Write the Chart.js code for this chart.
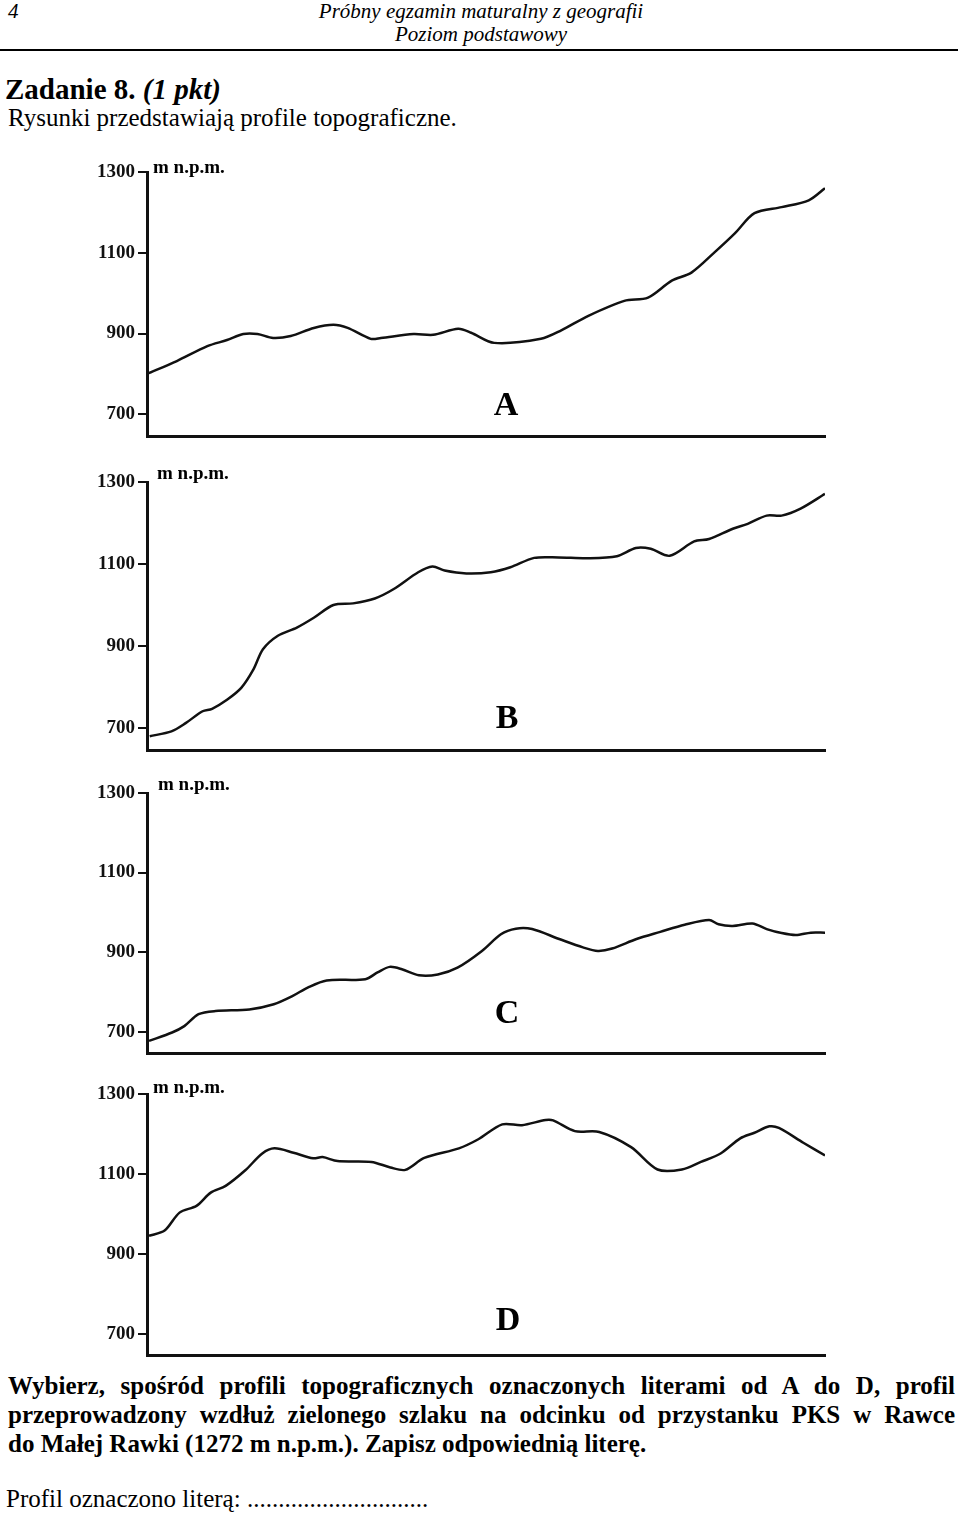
<!DOCTYPE html>
<html lang="pl">
<head>
<meta charset="utf-8">
<title>Profile topograficzne</title>
<script src="https://cdn.jsdelivr.net/npm/chart.js@4.4.1/dist/chart.umd.min.js"></script>
<style>
  html, body { margin: 0; padding: 0; background: #fff; }
  body { width: 960px; height: 1518px; position: relative; overflow: hidden;
         font-family: "Liberation Serif", "Times New Roman", serif; color: #000; }
  .abs { position: absolute; white-space: nowrap; }
  .head { font-style: italic; font-size: 21px; line-height: 23px; }
  .rule { position: absolute; left: 0; top: 49px; width: 958px; height: 1.5px; background: #000; }
  .unit { font-weight: bold; font-size: 19px; line-height: 20px; }
  .letter { font-weight: bold; font-size: 34px; line-height: 40px; width: 60px; text-align: center; }
  .task { left: 8px; width: 947px; font-weight: bold; font-size: 25px; line-height: 29px; }
  .just { text-align: justify; text-align-last: justify; }
  canvas { position: absolute; left: 0; }
</style>
</head>
<body>

<div class="abs head" style="left:8px; top:0;">4</div>
<div class="abs head" style="left:0; top:0; width:962px; text-align:center;">Próbny egzamin maturalny z geografii<br>Poziom podstawowy</div>
<div class="rule"></div>

<div class="abs" style="left:5px; top:72px; font-size:29px; line-height:34px; font-weight:bold;">Zadanie 8. <i>(1 pkt)</i></div>
<div class="abs" style="left:8px; top:104px; font-size:25px; line-height:28px;">Rysunki przedstawiają profile topograficzne.</div>

<div id="charts"></div>

<div class="abs task just" style="top:1371px;">Wybierz, spośród profili topograficznych oznaczonych literami od A do D, profil</div>
<div class="abs task just" style="top:1400px;">przeprowadzony wzdłuż zielonego szlaku na odcinku od przystanku PKS w Rawce</div>
<div class="abs task" style="top:1429px;">do Małej Rawki (1272 m n.p.m.). Zapisz odpowiednią literę.</div>

<div class="abs" style="left:6px; top:1485px; font-size:25px; line-height:28px;">Profil oznaczono literą: .............................</div>

<script>
// dane: odległość wzdłuż profilu (0-100) i wysokość (m n.p.m.)
const yTicks = [700, 900, 1100, 1300];
const unitLabel = 'm n.p.m.';

const distA = [0, 4.4, 8.9, 11.8, 14.2, 16.3, 18.6, 21.2, 24.6, 27.5, 29.6, 33.0, 34.5, 39.3, 42.2, 45.9, 47.8, 51.2, 58.1, 61.1, 65.1, 70.4, 73.9, 77.4, 80.3, 83.7, 86.7, 89.6, 93.6, 97.6, 100];
const elevA = [800, 832, 869, 884, 899, 899, 889, 894, 914, 922, 914, 887, 889, 899, 897, 912, 902, 877, 887, 908, 944, 981, 989, 1031, 1051, 1101, 1148, 1198, 1213, 1230, 1260];

const distB = [0.4, 3.6, 5.7, 8.2, 9.6, 11.8, 13.9, 15.7, 17.1, 19.3, 22.1, 24.6, 27.5, 30.4, 33.6, 36.4, 40.0, 42.1, 43.9, 47.1, 50.7, 53.6, 57.1, 60.7, 65.0, 69.3, 72.1, 74.3, 77.1, 80.7, 82.9, 86.4, 88.6, 91.4, 93.6, 96.4, 100];
const elevB = [680, 692, 712, 741, 747, 769, 798, 843, 892, 925, 945, 969, 1000, 1004, 1016, 1039, 1080, 1094, 1084, 1077, 1080, 1092, 1115, 1116, 1114, 1119, 1139, 1137, 1120, 1155, 1161, 1186, 1198, 1218, 1218, 1235, 1271];

const distC = [0.3, 3.7, 5.5, 7.6, 10.1, 15.1, 18.7, 21.5, 23.7, 26.5, 32.2, 34.0, 35.8, 37.6, 40.1, 42.9, 45.8, 49.4, 52.2, 54.4, 56.8, 60.8, 64.3, 66.5, 68.6, 72.2, 75.7, 79.3, 82.9, 84.3, 86.4, 89.3, 91.4, 93.6, 95.7, 97.9, 100];
const elevC = [677, 698, 714, 744, 752, 756, 769, 790, 811, 829, 832, 849, 863, 857, 842, 844, 861, 903, 945, 959, 958, 933, 912, 903, 909, 933, 951, 969, 981, 970, 966, 972, 958, 948, 943, 949, 949];

const distD = [0.3, 2.6, 4.8, 7.3, 9.4, 11.6, 14.5, 17.0, 18.8, 21.6, 24.5, 25.9, 28.1, 33.1, 35.9, 38.1, 40.9, 46.0, 48.8, 52.4, 55.3, 58.8, 59.9, 63.1, 66.7, 71.4, 75.3, 78.9, 81.7, 84.6, 87.5, 89.6, 91.8, 93.2, 96.8, 100];
const elevD = [945, 958, 1003, 1020, 1053, 1070, 1109, 1151, 1164, 1153, 1139, 1142, 1132, 1130, 1116, 1110, 1140, 1164, 1186, 1224, 1222, 1235, 1234, 1207, 1205, 1167, 1111, 1111, 1130, 1151, 1189, 1203, 1219, 1215, 1178, 1146];

const profileLetters = ['A', 'B', 'C', 'D'];
const profileDist = [distA, distB, distC, distD];
const profileElev = [elevA, elevB, elevC, elevD];

// położenie wykresów na stronie (góra osi = 1300, dół = oś pozioma)
const areaTop = [172, 482, 793, 1094];
const areaBottom = [437, 751, 1054, 1356];
const letterTop = [384, 697, 992, 1299];
const letterX = [506, 507, 507, 508];
const unitPos = [[153, 157], [157, 463], [158, 774], [153, 1077]];

const PAD_TOP = 16, PAD_BOTTOM = 6;
const X_AXIS_EXTRA = 8;   // oś X zajmuje jeszcze kilka pikseli pod obszarem wykresu
const AXIS_LEFT = 147, AXIS_RIGHT = 825;

const holder = document.getElementById('charts');

profileLetters.forEach((letter, i) => {
    const canvas = document.createElement('canvas');
    const h = areaBottom[i] - areaTop[i] + PAD_TOP + PAD_BOTTOM + X_AXIS_EXTRA;
    canvas.width = 960;
    canvas.height = h;
    canvas.style.top = (areaTop[i] - PAD_TOP) + 'px';
    canvas.style.width = '960px';
    canvas.style.height = h + 'px';
    holder.appendChild(canvas);

    const unit = document.createElement('div');
    unit.className = 'abs unit';
    unit.style.left = unitPos[i][0] + 'px';
    unit.style.top = unitPos[i][1] + 'px';
    unit.textContent = unitLabel;
    holder.appendChild(unit);

    const lab = document.createElement('div');
    lab.className = 'abs letter';
    lab.style.left = (letterX[i] - 30) + 'px';
    lab.style.top = letterTop[i] + 'px';
    lab.textContent = letter;
    holder.appendChild(lab);

    const points = profileDist[i].map((d, k) => ({ x: d, y: profileElev[i][k] }));

    new Chart(canvas, {
        type: 'line',
        data: {
            datasets: [{
                data: points,
                borderColor: '#111',
                borderWidth: 2.5,
                pointRadius: 0,
                tension: 0.3,
                fill: false
            }]
        },
        options: {
            responsive: false,
            animation: false,
            devicePixelRatio: 1,
            layout: { padding: { top: PAD_TOP, bottom: PAD_BOTTOM, left: 0, right: 960 - AXIS_RIGHT } },
            plugins: { legend: { display: false }, tooltip: { enabled: false } },
            scales: {
                x: {
                    type: 'linear',
                    min: 0,
                    max: 100,
                    ticks: { display: false },
                    grid: { display: false },
                    border: { display: true, color: '#111', width: 3 },
                    afterFit: s => { s.height = 0; }
                },
                y: {
                    min: 645,
                    max: 1300,
                    afterBuildTicks: s => { s.ticks = yTicks.map(v => ({ value: v })); },
                    afterFit: s => { s.width = AXIS_LEFT; },
                    ticks: {
                        color: '#111',
                        padding: 3,
                        font: { family: '"Liberation Serif", serif', size: 19, weight: 'bold' },
                        callback: v => String(v)
                    },
                    grid: { drawOnChartArea: false, drawTicks: true, tickLength: 9, color: '#111', lineWidth: 2 },
                    border: { display: true, color: '#111', width: 3 }
                }
            }
        }
    });
});
</script>
</body>
</html>
